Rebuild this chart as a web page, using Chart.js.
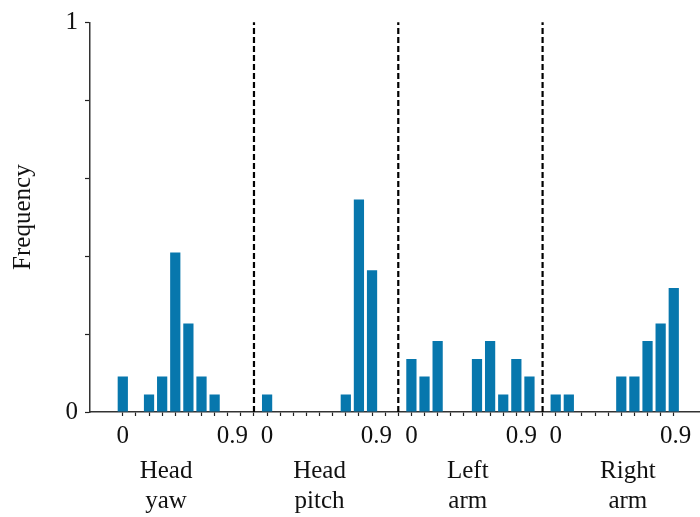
<!DOCTYPE html>
<html>
<head>
<meta charset="utf-8">
<script src="https://cdn.jsdelivr.net/npm/chart.js@4"></script>
<style>
  html, body { margin: 0; padding: 0; background: #fff; }
  #wrap { width: 700px; height: 517px; }
</style>
</head>
<body>
<div id="wrap"><canvas id="freq-chart"></canvas></div>

<script>
  // groups (two-line labels) and bins
  const groups = [['Head', 'yaw'], ['Head', 'pitch'], ['Left', 'arm'], ['Right', 'arm']];
  const binLabels = ['0', '0.1', '0.2', '0.3', '0.4', '0.5', '0.6', '0.7', '0.8', '0.9'];

  // frequency per bin
  const headYaw   = [0.091, 0, 0.045, 0.091, 0.409, 0.227, 0.091, 0.045, 0, 0];
  const headPitch = [0.045, 0, 0, 0, 0, 0, 0.045, 0.545, 0.364, 0];
  const leftArm   = [0.136, 0.091, 0.182, 0, 0, 0.136, 0.182, 0.045, 0.136, 0.091];
  const rightArm  = [0.045, 0.045, 0, 0, 0, 0.091, 0.091, 0.182, 0.227, 0.318];

  const yTicks = [0, 0.2, 0.4, 0.6, 0.8, 1];
  const yTickLabels = ['0', '', '', '', '', '1'];

  const series = [headYaw, headPitch, leftArm, rightArm];

  function initChart() {
    const ctx = document.getElementById('freq-chart').getContext('2d');
    const FONT = 'Liberation Serif';
    const SLOT = binLabels.length + 1;   // 10 bins + one gap for the divider

    // bars placed on a linear axis: group g, bin i -> g*SLOT + i
    const barData = [];
    series.forEach((vals, g) => vals.forEach((v, i) => barData.push({ x: g * SLOT + i, y: v })));

    // dashed dividers between the groups
    const dividers = groups.slice(1).map((_, k) => ({
      type: 'line',
      data: [{ x: (k + 1) * SLOT - 1, y: 0 }, { x: (k + 1) * SLOT - 1, y: 1 }],
      borderColor: '#000',
      borderWidth: 2.2,
      borderDash: [6, 3],
      pointRadius: 0,
      clip: false
    }));

    // all tick-mark slots on the main axis
    const markSlots = [];
    for (let s = 0; s < groups.length * SLOT - 1; s++) markSlots.push(s);

    // label spots for "0" and "0.9" under every group
    const lastBinSpot = [8.35, 8.33, 8.39, 9.14];
    const numSpots = [];
    groups.forEach((_, g) => numSpots.push(g * SLOT, g * SLOT + lastBinSpot[g]));
    const groupSpots = [3.3, 4.0, 4.3, 5.5].map((o, g) => g * SLOT + o);

    const X_MIN = -2.5, X_MAX = 44;
    const tickFont = { family: FONT, size: 25, lineHeight: 1.22 };

    new Chart(ctx, {
      type: 'bar',
      data: {
        datasets: [
          {
            label: 'Frequency',
            data: barData,
            backgroundColor: '#0777ad',
            borderWidth: 0,
            barPercentage: 0.78,
            categoryPercentage: 1
          },
          ...dividers
        ]
      },
      options: {
        responsive: true,
        maintainAspectRatio: false,
        animation: false,
        layout: { padding: { top: 19, right: 0, bottom: 0, left: 0 } },
        plugins: { legend: { display: false }, tooltip: { enabled: false } },
        scales: {
          x: {
            type: 'linear',
            position: 'bottom',
            offset: false,
            weight: 0,
            min: X_MIN,
            max: X_MAX,
            afterBuildTicks: (s) => { s.ticks = markSlots.map(v => ({ value: v })); },
            afterFit: (s) => { s.height = 4; },
            ticks: { display: false },
            grid: { drawOnChartArea: false, offset: false, tickLength: 4, tickColor: '#222', tickWidth: 1.2 },
            border: { color: '#333', width: 1.5 }
          },
          xNum: {
            type: 'linear',
            position: 'bottom',
            offset: false,
            weight: 1,
            min: X_MIN,
            max: X_MAX,
            afterBuildTicks: (s) => { s.ticks = numSpots.map(v => ({ value: v })); },
            afterFit: (s) => { s.height = 30; },
            ticks: {
              autoSkip: false,
              maxRotation: 0,
              padding: -3,
              color: '#111',
              font: tickFont,
              callback: (v, i) => (i % 2 === 0 ? binLabels[0] : binLabels[binLabels.length - 1])
            },
            grid: { display: false, offset: false },
            border: { display: false }
          },
          xGroup: {
            type: 'linear',
            position: 'bottom',
            offset: false,
            weight: 2,
            min: X_MIN,
            max: X_MAX,
            afterBuildTicks: (s) => { s.ticks = groupSpots.map(v => ({ value: v })); },
            afterFit: (s) => { s.height = 71; },
            ticks: {
              autoSkip: false,
              maxRotation: 0,
              padding: 2,
              color: '#111',
              font: tickFont,
              callback: (v, i) => groups[i]
            },
            grid: { display: false, offset: false },
            border: { display: false }
          },
          y: {
            min: 0,
            max: 1,
            afterBuildTicks: (s) => { s.ticks = yTicks.map(v => ({ value: v })); },
            afterFit: (s) => { s.width = 90; },
            ticks: {
              padding: 7,
              color: '#111',
              font: tickFont,
              callback: (v, i) => yTickLabels[i]
            },
            grid: { drawOnChartArea: false, tickLength: 5, tickColor: '#222', tickWidth: 1.2 },
            border: { color: '#333', width: 1.5 },
            title: {
              display: true,
              text: 'Frequency',
              color: '#111',
              font: { family: FONT, size: 25, lineHeight: 1.2 },
              padding: { top: 8, bottom: 0 }
            }
          }
        }
      }
    });
  }

  requestAnimationFrame(initChart);
</script>
</body>
</html>
